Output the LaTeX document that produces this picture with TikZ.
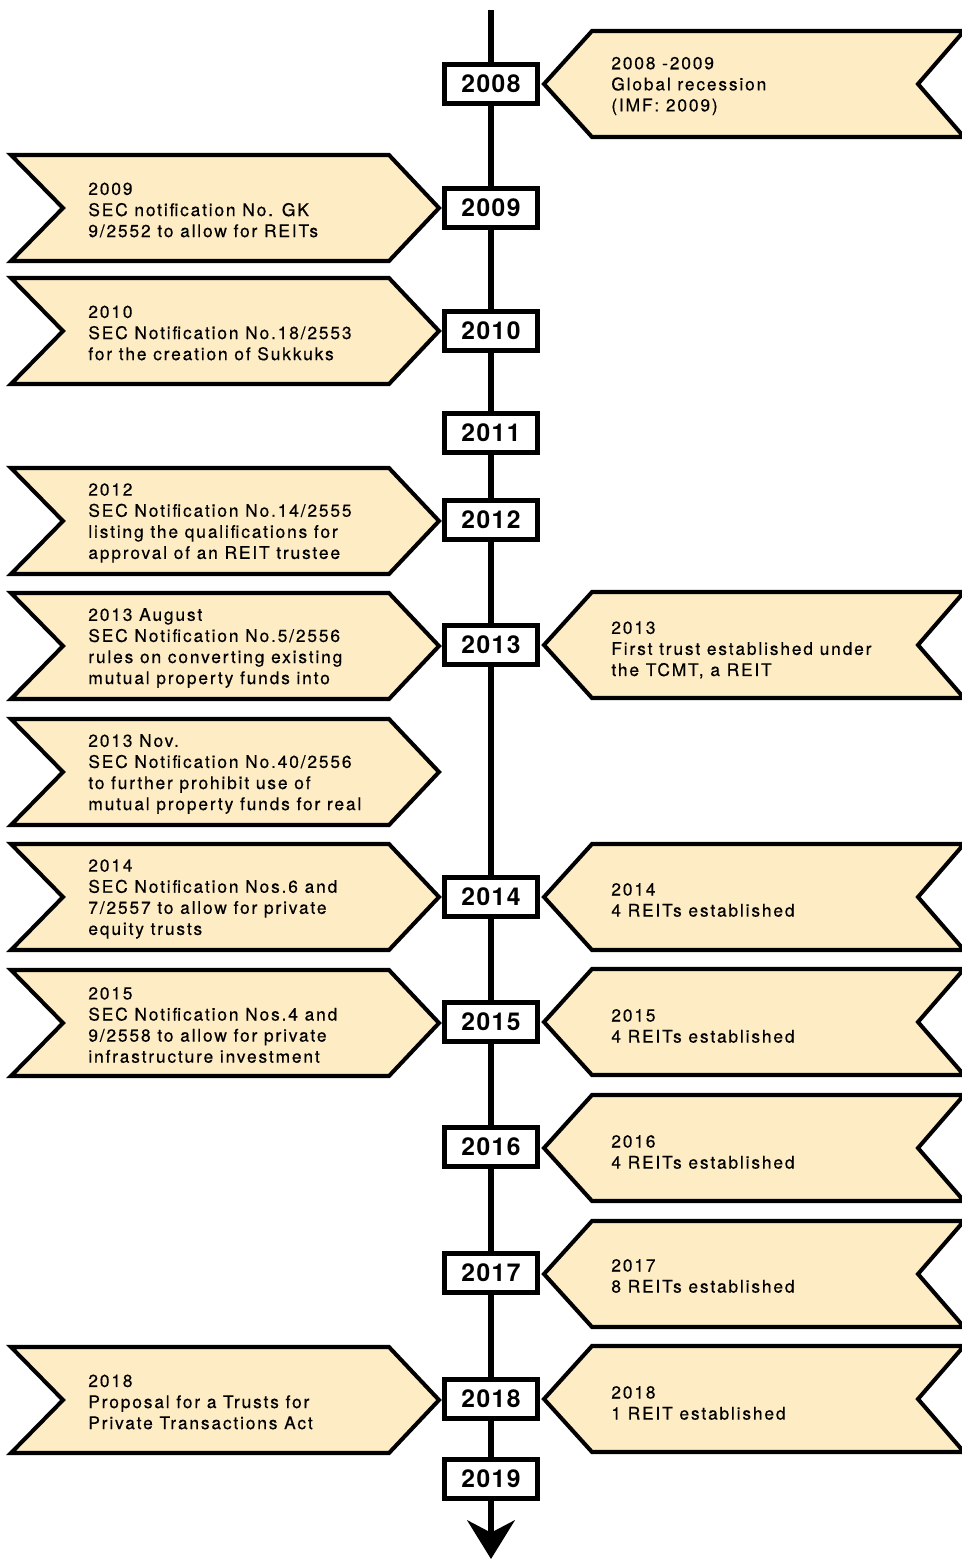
\documentclass[tikz,border=0pt]{standalone}
\usepackage{fontspec}
\usepackage{xcolor}
\usepackage{tikz}
\usetikzlibrary{arrows.meta, backgrounds}
\newfontfamily\evfont[LetterSpace=10.5, FakeBold=0.4]{TeX Gyre Heros}
\newfontfamily\yrfont[LetterSpace=6]{TeX Gyre Heros}
\definecolor{flagfill}{HTML}{FDECC4}

\begin{document}
\begin{tikzpicture}[
    x=0.02cm, y=-0.02cm,
    yearbox/.style={draw, line width=2.8pt, fill=white, minimum width=1.86cm, minimum height=0.78cm, inner sep=0pt, font=\yrfont\fontsize{14}{15}\selectfont\bfseries},
    flag/.style={draw, line width=2.3pt, fill=flagfill, line join=miter},
    evtext/.style={anchor=west, inner sep=0pt, align=left, font=\evfont\fontsize{9.9}{12}\selectfont},
    timeline/.style={line width=3.4pt}
]
\useasboundingbox (0,0) rectangle (962,1560);

% Year boxes
\foreach \yr/\yy in {2008/84, 2009/208, 2010/331, 2011/433, 2012/520, 2013/645, 2014/897, 2015/1022, 2016/1147, 2017/1273, 2018/1399, 2019/1479} {
    \node[yearbox] (y\yr) at (491,\yy) {\yr};
}

% Timeline
\coordinate (top) at (491,10);
\coordinate (bottom) at (491,1559);
\begin{scope}[on background layer]
\draw[timeline] (top) -- (y2019);
\draw[timeline, -{Stealth[length=22pt, width=27pt, inset=7pt]}] (y2019) -- (bottom);
\end{scope}

% Left flags (pointing right)
\foreach \yy in {208, 331, 521, 646, 772, 897, 1023, 1400} {
    \draw[flag] (11,\yy-53) -- (389,\yy-53) -- (439,\yy) -- (389,\yy+53) -- (11,\yy+53) -- (63,\yy) -- cycle;
}

% Right flags (pointing left)
\foreach \yy in {84, 645, 897, 1022, 1148, 1274, 1399} {
    \draw[flag] (544,\yy) -- (592,\yy-53) -- (964,\yy-53) -- (918,\yy) -- (964,\yy+53) -- (592,\yy+53) -- cycle;
}

% Left texts
\node[evtext] (sec2009) at (88,210) {2009\\SEC notification No. GK\\9/2552 to allow for REITs};
\node[evtext] (sec2010) at (88,333) {2010\\SEC Notification No.18/2553\\for the creation of Sukkuks};
\node[evtext] (sec2012) at (88,523) {2012\\SEC Notification No.14/2555\\listing the qualifications for\\approval of an REIT trustee};
\node[evtext] (sec2013aug) at (88,648) {2013 August\\SEC Notification No.5/2556\\rules on converting existing\\mutual property funds into};
\node[evtext] (sec2013nov) at (88,774) {2013 Nov.\\SEC Notification No.40/2556\\to further prohibit use of\\mutual property funds for real};
\node[evtext] (sec2014) at (88,899) {2014\\SEC Notification Nos.6 and\\7/2557 to allow for private\\equity trusts};
\node[evtext] (sec2015) at (88,1025) {2015\\SEC Notification Nos.4 and\\9/2558 to allow for private\\infrastructure investment};
\node[evtext] (act2018) at (88,1402) {2018\\Proposal for a Trusts for\\Private Transactions Act};

% Right texts
\node[evtext] (rec2008) at (611,86) {2008 -2009\\Global recession\\(IMF: 2009)};
\node[evtext] (reit2013) at (611,650) {2013\\First trust established under\\the TCMT, a REIT};
\node[evtext] (reit2014) at (611,900) {2014\\4 REITs established};
\node[evtext] (reit2015) at (611,1026) {2015\\4 REITs established};
\node[evtext] (reit2016) at (611,1152) {2016\\4 REITs established};
\node[evtext] (reit2017) at (611,1276) {2017\\8 REITs established};
\node[evtext] (reit2018) at (611,1403) {2018\\1 REIT established};

\end{tikzpicture}
\end{document}
